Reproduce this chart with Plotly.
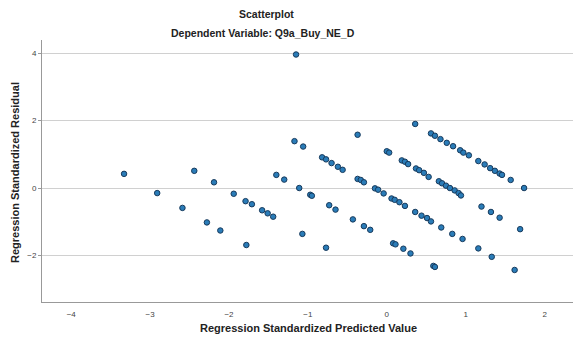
import plotly.graph_objects as go

# Regression Standardized Predicted Value
predicted = [
    -3.33, -2.91, -2.59, -2.44, -2.28, -2.19, -2.11, -1.94, -1.79, -1.71,
    -1.58, -1.51, -1.44, -1.78, -1.40, -1.30, -1.17, -1.06, -1.15, -1.11,
    -0.97, -0.95, -1.07, -0.77, -0.82, -0.77, -0.70, -0.62, -0.56, -0.73,
    -0.65, -0.37, -0.37, -0.33, -0.29, -0.15, -0.11, -0.43, -0.29, -0.21,
    -0.04, 0.06, 0.10, 0.16, 0.23, 0.36, 0.44, 0.51, 0.56, 0.69,
    0.83, 0.96, 0.08, 0.11, 0.21, 0.30, 0.59, 0.61, 0.36, 0.56,
    0.61, 0.68, 0.76, 0.84, 0.93, 0.97, 1.04, 1.16, 1.24, 1.31,
    1.37, 1.43, 1.46, 1.57, 1.74, 0.00, 0.03, 0.19, 0.23, 0.27,
    0.37, 0.41, 0.47, 0.53, 0.66, 0.70, 0.75, 0.80, 0.86, 0.91,
    0.94, 1.20, 1.32, 1.43, 1.69, 1.16, 1.33, 1.62,
]
# Regression Standardized Residual
residual = [
    0.42, -0.15, -0.59, 0.51, -1.02, 0.17, -1.26, -0.17, -0.39, -0.48,
    -0.66, -0.75, -0.85, -1.69, 0.39, 0.25, 1.39, 1.23, 3.96, 0.00,
    -0.20, -0.23, -1.36, -1.77, 0.91, 0.85, 0.74, 0.63, 0.54, -0.51,
    -0.64, 1.58, 0.27, 0.24, 0.17, -0.01, -0.05, -0.93, -1.13, -1.24,
    -0.16, -0.31, -0.35, -0.42, -0.53, -0.71, -0.82, -0.89, -0.99, -1.17,
    -1.36, -1.51, -1.64, -1.67, -1.80, -1.94, -2.31, -2.34, 1.90, 1.62,
    1.55, 1.45, 1.34, 1.24, 1.12, 1.05, 0.97, 0.80, 0.70, 0.59,
    0.51, 0.43, 0.39, 0.24, 0.00, 1.09, 1.05, 0.82, 0.78, 0.71,
    0.58, 0.53, 0.45, 0.33, 0.20, 0.14, 0.07, 0.00, -0.07, -0.15,
    -0.22, -0.55, -0.71, -0.88, -1.22, -1.79, -2.04, -2.43,
]

x_ticks = [-4, -3, -2, -1, 0, 1, 2]
y_ticks = [-2, 0, 2, 4]

title = "Scatterplot"
subtitle = "Dependent Variable: Q9a_Buy_NE_D"
x_title = "Regression Standardized Predicted Value"
y_title = "Regression Standardized Residual"

FONT = "Liberation Sans"

W, H = 573, 340
pl, pr, pt, pb = 42, 0, 40, 38
pw, ph = W - pl - pr, H - pt - pb

fig = go.Figure(
    go.Scatter(
        x=predicted,
        y=residual,
        mode="markers",
        marker=dict(size=5.5, color="#2a7cb8", line=dict(color="#173a5c", width=1)),
        hoverinfo="skip",
    )
)

fig.update_layout(
    width=W,
    height=H,
    margin=dict(l=pl, r=pr, t=pt, b=pb, autoexpand=False),
    paper_bgcolor="white",
    plot_bgcolor="white",
    showlegend=False,
    font=dict(family=FONT, color="#222"),
)


def px_to_paper(xp, yp):
    return (xp - pl) / pw, (H - pb - yp) / ph


ann = []
for txt, xp, yp, rot, size in [
    (title, 266, 14, 0, 10.5),
    (subtitle, 263, 33, 0, 10.5),
    (x_title, 308, 328, 0, 11),
    (y_title, 15, 173, -90, 11),
]:
    ax, ay = px_to_paper(xp, yp)
    ann.append(dict(text="<b>" + txt + "</b>", x=ax, y=ay, xref="paper", yref="paper",
                    xanchor="center", yanchor="middle", textangle=rot, showarrow=False,
                    font=dict(size=size, family=FONT, color="#222")))
fig.layout.annotations = ann

fig.update_xaxes(
    range=[-4.37, 2.36],
    tickvals=x_ticks,
    ticktext=[("\u2212" + str(-v)) if v < 0 else str(v) for v in x_ticks],
    tickfont=dict(size=8, color="#444"),
    showgrid=False,
    zeroline=False,
    showline=True,
    linecolor="#999",
    linewidth=1,
    ticks="",
    ticklabelstandoff=4,
    automargin=False,
)
fig.update_yaxes(
    range=[-3.38, 4.39],
    tickvals=y_ticks,
    ticktext=[("\u2212" + str(-v)) if v < 0 else str(v) for v in y_ticks],
    tickfont=dict(size=8, color="#444"),
    showgrid=True,
    gridcolor="#d0d0d0",
    gridwidth=1,
    zeroline=False,
    showline=True,
    linecolor="#999",
    linewidth=1,
    ticks="outside",
    ticklen=3,
    tickcolor="#999",
    automargin=False,
)

fig.write_html(
    "out.html",
    config={"displayModeBar": False},
    post_script="document.body.style.margin='0';document.body.style.padding='0';",
)
